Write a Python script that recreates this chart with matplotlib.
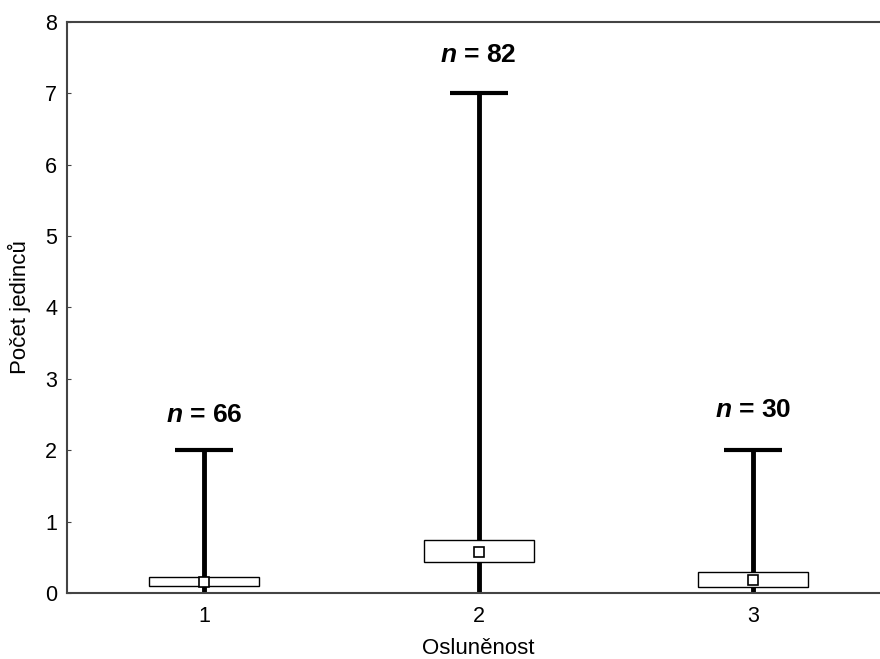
import numpy as np
import matplotlib
matplotlib.use('Agg')
import matplotlib.pyplot as plt

plt.rcParams['font.family'] = ['Liberation Sans', 'DejaVu Sans']
plt.rcParams['mathtext.fontset'] = 'custom'
plt.rcParams['mathtext.it'] = 'Liberation Sans:italic:bold'

# data
groups = [1, 2, 3]
means = [0.16, 0.57, 0.19]
box_low = [0.10, 0.43, 0.08]
box_high = [0.22, 0.74, 0.29]
whisk_low = [0, 0, 0]
whisk_high = [2, 7, 2]
n_labels = ['66', '82', '30']
n_ypos = [2.49, 7.53, 2.56]

fig = plt.figure(figsize=(8.8, 6.59), dpi=100)
ax = fig.add_axes([0.076, 0.100, 0.936, 0.867])

x = np.array(groups)
# whiskers
ax.vlines(x, whisk_low, whisk_high, color='black', linewidth=3.5, zorder=2)
ax.hlines(whisk_high, x - 0.105, x + 0.105, color='black', linewidth=3, zorder=2)
ax.hlines(whisk_low, x - 0.105, x + 0.105, color='#888888', linewidth=2, zorder=2)
# boxes
ax.bar(x, np.array(box_high) - np.array(box_low), bottom=box_low, width=0.4,
       facecolor='white', edgecolor='black', linewidth=1.0, zorder=3)
# means
ax.plot(x, means, 's', markersize=7, markerfacecolor='white',
        markeredgecolor='black', markeredgewidth=1.2, zorder=4, linestyle='none')

for xi, lab, yp in zip(x, n_labels, n_ypos):
    ax.text(xi, yp, '$n$ = ' + lab, ha='center', va='center',
            fontsize=19, fontweight='bold')

ax.set_xlim(0.5, 3.5)
ax.set_ylim(0, 8)
ax.set_xticks(groups)
ax.set_yticks(range(0, 9))
ax.tick_params(direction='in', length=3, labelsize=15.5, color='#444444')
ax.tick_params(axis='y', pad=7)
ax.tick_params(axis='x', pad=9)
for s in ax.spines.values():
    s.set_color('#444444')
    s.set_linewidth(1.5)

ax.set_xlabel('Osluněnost', fontsize=16, labelpad=8)
ax.set_ylabel('Počet jedinců', fontsize=16, labelpad=10)

fig.savefig('out.png', dpi=100)
